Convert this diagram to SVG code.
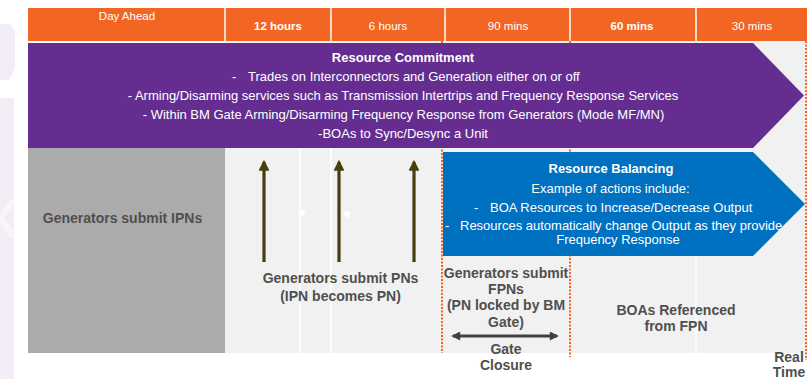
<svg xmlns="http://www.w3.org/2000/svg" width="810" height="379" viewBox="0 0 810 379">
<defs>
<style>
.t{font-family:"Liberation Sans",Arial,sans-serif;}
.hd{font-size:11.5px;fill:#ffffff;text-anchor:middle;}
.hb{font-weight:bold;}
.wt{font-size:13px;fill:#ffffff;}
.gt{font-size:14px;font-weight:bold;fill:#4f4f4f;text-anchor:middle;}
.mid{text-anchor:middle;}
.dot{stroke:#f26522;stroke-width:2;stroke-dasharray:2 1.5;fill:none;}
.col{stroke:#ffffff;stroke-width:1.5;}
.up{stroke:#4a3e0e;stroke-width:3.2;}
</style>
<marker id="ah" viewBox="0 0 10 10" refX="8" refY="5" markerWidth="3.4" markerHeight="3.4" orient="auto">
<path d="M0,0 L10,5 L0,10 z" fill="#4a3e0e"/>
</marker>
<marker id="dh" viewBox="0 0 10 10" refX="8" refY="5" markerWidth="3.6" markerHeight="3" orient="auto-start-reverse">
<path d="M0,0 L10,5 L0,10 z" fill="#404040"/>
</marker>
</defs>
<rect width="810" height="379" fill="#ffffff"/>
<g id="watermark">
<polygon points="0,24 10,24 15,32 15,68 9,80 0,80" fill="#f1ecf5"/>
<rect x="0" y="98" width="14" height="281" fill="#f1ecf5"/>
<polygon points="0,214 10,200 14,200 14,204 4,218 14,232 14,238 10,238 0,224" fill="#f8f5fa"/>
</g>
<g id="background">
<rect x="225" y="41" width="581" height="312" fill="#f1f1f1"/>
<line class="col" x1="300" y1="148" x2="300" y2="353"/>
<line class="col" x1="331" y1="148" x2="331" y2="353"/>
<line class="col" x1="696" y1="256" x2="696" y2="353"/>
<polygon points="302,209 306,213 302,217 298,213" fill="#ffffff"/>
<polygon points="347,210 351,214 347,218 343,214" fill="#ffffff"/>
</g>
<g id="header">
<rect x="28" y="8" width="779" height="33" fill="#f26522"/>
<line class="col" x1="225" y1="8" x2="225" y2="41"/>
<line class="col" x1="331" y1="8" x2="331" y2="41"/>
<line class="col" x1="445" y1="8" x2="445" y2="41"/>
<line class="col" x1="570" y1="8" x2="570" y2="41"/>
<line class="col" x1="696" y1="8" x2="696" y2="41"/>
<text class="t hd" x="127" y="19.5">Day Ahead</text>
<text class="t hd hb" x="278" y="29.5">12 hours</text>
<text class="t hd" x="388" y="29.5">6 hours</text>
<text class="t hd" x="508" y="29.5">90 mins</text>
<text class="t hd hb" x="632" y="29.5">60 mins</text>
<text class="t hd" x="752" y="29.5">30 mins</text>
</g>
<g id="timelines">
<line class="dot" x1="442" y1="41" x2="442" y2="353"/>
<line class="dot" x1="570" y1="41" x2="570" y2="357"/>
<line class="dot" x1="806" y1="41" x2="806" y2="360"/>
</g>
<g id="resource-commitment">
<polygon points="28,43 753,43 804,95.5 753,148 28,148" fill="#662d91"/>
<text class="t wt mid" x="403" y="61.5" font-weight="bold">Resource Commitment</text>
<text class="t wt" y="80.5"><tspan x="232">-</tspan><tspan x="248">Trades on Interconnectors and Generation either on or off</tspan></text>
<text class="t wt mid" x="403" y="99.5">- Arming/Disarming services such as Transmission Intertrips and Frequency Response Services</text>
<text class="t wt mid" x="403.5" y="118.5">- Within BM Gate Arming/Disarming Frequency Response from Generators (Mode MF/MN)</text>
<text class="t wt mid" x="403" y="137.5">-BOAs to Sync/Desync a Unit</text>
</g>
<g id="ipn">
<rect x="28" y="148" width="197" height="205" fill="#ababab"/>
<text class="t gt" x="122.5" y="223">Generators submit IPNs</text>
</g>
<g id="resource-balancing">
<polygon points="443,152 753,152 805,204 753,256 443,256" fill="#0070c0"/>
<text class="t wt mid" x="611" y="172.5" font-weight="bold">Resource Balancing</text>
<text class="t wt mid" x="610.5" y="192.5">Example of actions include:</text>
<text class="t wt" y="211.5"><tspan x="474">-</tspan><tspan x="490">BOA Resources to Increase/Decrease Output</tspan></text>
<text class="t wt" y="230"><tspan x="445">-</tspan><tspan x="460">Resources automatically change Output as they provide</tspan></text>
<text class="t wt mid" x="618" y="243.5">Frequency Response</text>
</g>
<g id="pn">
<text class="t gt" x="340.5" y="283">Generators submit PNs</text>
<text class="t gt" x="340.5" y="301">(IPN becomes PN)</text>
</g>
<g id="fpn">
<text class="t gt" x="506" y="277.5">Generators submit</text>
<text class="t gt" x="506" y="294">FPNs</text>
<text class="t gt" x="506" y="310">(PN locked by BM</text>
<text class="t gt" x="506" y="326.5">Gate)</text>
</g>
<g id="gate-closure">
<text class="t gt" x="506" y="354">Gate</text>
<text class="t gt" x="506" y="370">Closure</text>
</g>
<g id="boas">
<text class="t gt" x="676" y="315">BOAs Referenced</text>
<text class="t gt" x="676" y="331">from FPN</text>
</g>
<g id="real-time">
<text class="t gt" x="789" y="362" font-size="13.5">Real</text>
<text class="t gt" x="789" y="377" font-size="13.5">Time</text>
</g>
<g id="connectors">
<line class="up" x1="264" y1="262" x2="264" y2="162" marker-end="url(#ah)"/>
<line class="up" x1="339" y1="262" x2="339" y2="162" marker-end="url(#ah)"/>
<line class="up" x1="414" y1="262" x2="414" y2="162" marker-end="url(#ah)"/>
<line x1="453" y1="336" x2="557" y2="336" stroke="#404040" stroke-width="3" marker-start="url(#dh)" marker-end="url(#dh)"/>
</g>
</svg>
